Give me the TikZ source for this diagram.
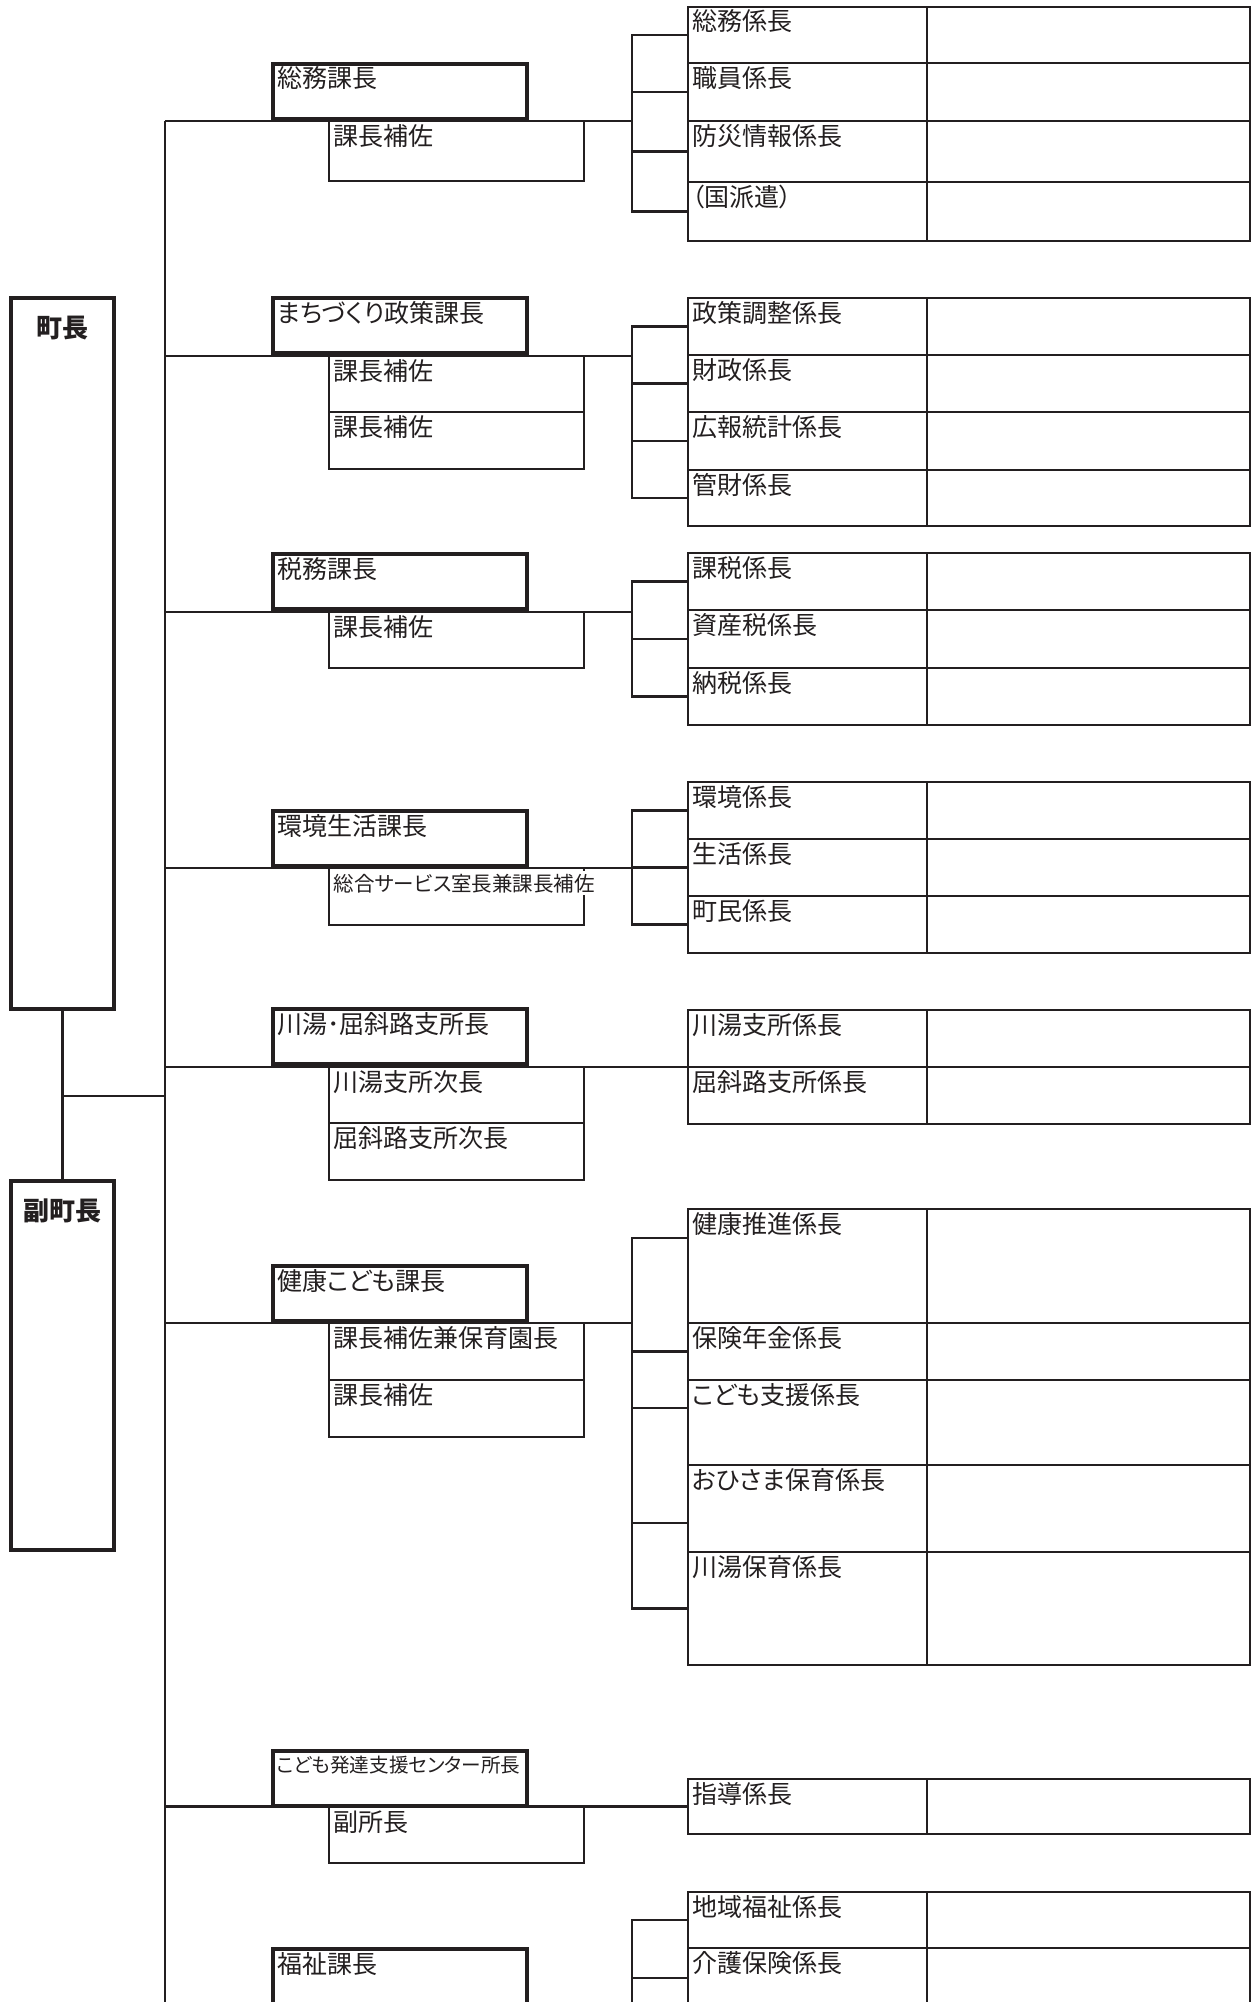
\documentclass[tikz,border=0pt]{standalone}
\usepackage{fontspec}
\setmainfont{Noto Sans CJK JP}[RawFeature=+palt]
\usepackage{xcolor}
\usetikzlibrary{positioning}
\definecolor{ink}{RGB}{35,31,32}

\begin{document}
\begin{tikzpicture}[
        x=1pt, y=-1pt,
        every label/.style={
            inner sep=0pt,
            text=ink,
            font=\fontsize{25}{30}\selectfont
        },
        box/.style={
            draw=ink,
            anchor=north west,
            inner sep=0pt,
            outer sep=0pt
        },
        chief/.style={box, line width=4.5pt, minimum width=103pt},
        head/.style={box, line width=4.5pt, minimum width=254pt, minimum height=55pt},
        aide/.style={box, line width=2.4pt, minimum width=255pt},
        unit/.style={box, line width=2.6pt, minimum width=239pt},
        blank/.style={box, line width=2.6pt, minimum width=323pt},
        txt/.style={label={[anchor=base west, xshift=4pt, yshift=-24pt]north west:#1}},
        boss/.style={label={[anchor=base, yshift=-39pt, font=\bfseries\fontsize{26}{30}\selectfont]north:#1}},
        wire/.style={draw=ink, line width=2.4pt}
    ]
        \useasboundingbox (0,0) rectangle (1258,2002);
        \clip (0,0) rectangle (1258,2002);
        \fill[white] (0,0) rectangle (1258,2002);

        \node[chief, minimum height=711pt, boss=町長] (mayor) at (11,298) {};
        \node[chief, minimum height=369pt, boss=副町長] (deputy) at (11,1181) {};

        \node[head, txt=総務課長] (h1) at (273,64) {};
        \node[head, txt=まちづくり政策課長] (h2) at (273,298) {};
        \node[head, txt=税務課長] (h3) at (273,554) {};
        \node[head, txt=環境生活課長] (h4) at (273,811) {};
        \node[head, txt=川湯･屈斜路支所長] (h5) at (273,1009) {};
        \node[head, txt=健康こども課長] (h6) at (273,1266) {};
        \node[head, label={[anchor=base west, xshift=3.5pt, yshift=-21pt, font=\fontsize{19.6}{23}\selectfont]north west:こども発達支援センター所長}] (h7) at (273,1751) {};
        \node[head, minimum height=60pt, txt=福祉課長] (h8) at (273,1949) {};

        \node[aide, minimum height=60pt, txt=課長補佐] (a11) at (329,121) {};
        \node[aide, minimum height=56pt, txt=課長補佐] (a21) at (329,356) {};
        \node[aide, minimum height=57pt, txt=課長補佐, below=0pt of a21] (a22) {};
        \node[aide, minimum height=56pt, txt=課長補佐] (a31) at (329,612) {};
        \node[aide, minimum height=57pt, label={[anchor=base west, xshift=4.5pt, yshift=-23pt, fill=white, inner ysep=2.5pt, font=\fontsize{20.5}{24}\selectfont]north west:総合サービス室長兼課長補佐}] (a41) at (329,868) {};
        \node[aide, minimum height=56pt, txt=川湯支所次長] (a51) at (329,1067) {};
        \node[aide, minimum height=57pt, txt=屈斜路支所次長, below=0pt of a51] (a52) {};
        \node[aide, minimum height=57pt, txt=課長補佐兼保育園長] (a61) at (329,1323) {};
        \node[aide, minimum height=57pt, txt=課長補佐, below=0pt of a61] (a62) {};
        \node[aide, minimum height=56pt, txt=副所長] (a71) at (329,1807) {};

        \foreach \ys/\ye/\lbl [count=\i] in {7/63/総務係長, 63/121/職員係長, 121/182/防災情報係長, 182/241/（国派遣）} {
            \node[unit, minimum height={\ye-\ys}, txt=\lbl] (u1\i) at (688,\ys) {};
            \node[blank, minimum height={\ye-\ys}, right=0pt of u1\i] (v1\i) {};
        }
        \foreach \ys/\ye/\lbl [count=\i] in {298/355/政策調整係長, 355/412/財政係長, 412/470/広報統計係長, 470/526/管財係長} {
            \node[unit, minimum height={\ye-\ys}, txt=\lbl] (u2\i) at (688,\ys) {};
            \node[blank, minimum height={\ye-\ys}, right=0pt of u2\i] (v2\i) {};
        }
        \foreach \ys/\ye/\lbl [count=\i] in {553/610/課税係長, 610/668/資産税係長, 668/725/納税係長} {
            \node[unit, minimum height={\ye-\ys}, txt=\lbl] (u3\i) at (688,\ys) {};
            \node[blank, minimum height={\ye-\ys}, right=0pt of u3\i] (v3\i) {};
        }
        \foreach \ys/\ye/\lbl [count=\i] in {782/839/環境係長, 839/896/生活係長, 896/953/町民係長} {
            \node[unit, minimum height={\ye-\ys}, txt=\lbl] (u4\i) at (688,\ys) {};
            \node[blank, minimum height={\ye-\ys}, right=0pt of u4\i] (v4\i) {};
        }
        \foreach \ys/\ye/\lbl [count=\i] in {1010/1067/川湯支所係長, 1067/1124/屈斜路支所係長} {
            \node[unit, minimum height={\ye-\ys}, txt=\lbl] (u5\i) at (688,\ys) {};
            \node[blank, minimum height={\ye-\ys}, right=0pt of u5\i] (v5\i) {};
        }
        \foreach \ys/\ye/\lbl [count=\i] in {1209/1323/健康推進係長, 1323/1380/保険年金係長, 1380/1465/こども支援係長, 1465/1552/おひさま保育係長, 1552/1665/川湯保育係長} {
            \node[unit, minimum height={\ye-\ys}, txt=\lbl] (u6\i) at (688,\ys) {};
            \node[blank, minimum height={\ye-\ys}, right=0pt of u6\i] (v6\i) {};
        }
        \foreach \ys/\ye/\lbl [count=\i] in {1779/1834/指導係長} {
            \node[unit, minimum height={\ye-\ys}, txt=\lbl] (u7\i) at (688,\ys) {};
            \node[blank, minimum height={\ye-\ys}, right=0pt of u7\i] (v7\i) {};
        }
        \foreach \ys/\ye/\lbl [count=\i] in {1892/1948/地域福祉係長, 1948/2008/介護保険係長} {
            \node[unit, minimum height={\ye-\ys}, txt=\lbl] (u8\i) at (688,\ys) {};
            \node[blank, minimum height={\ye-\ys}, right=0pt of u8\i] (v8\i) {};
        }

        \coordinate (trunk) at (165,121);
        \coordinate (foot) at (165,2010);
        \coordinate (jct) at (62.5,1096);
        \coordinate (b1) at (632,121);
        \coordinate (b2) at (632,356);
        \coordinate (b3) at (632,612);
        \coordinate (b4) at (632,868);
        \coordinate (b6) at (632,1323);
        \coordinate (b8) at (632,2006);
        \coordinate (k61) at ([yshift=28pt]u61.west);
        \coordinate (k63) at ([yshift=14.5pt]u63.west);
        \coordinate (k64) at ([yshift=-14.5pt]u64.west);

        \draw[wire] (mayor) -- (deputy);
        \draw[wire] (jct) -- (jct -| trunk);
        \draw[wire] (trunk) -- (foot);

        \draw[wire] (b1 -| trunk) -- (b1);
        \draw[wire] (u11.west) -| (b1) |- (u14.west);
        \draw[wire] (u12.west) -- (u12.west -| b1);
        \draw[wire] (u13.west) -- (u13.west -| b1);

        \draw[wire] (b2 -| trunk) -- (b2);
        \draw[wire] (u21.west) -| (b2) |- (u24.west);
        \draw[wire] (u22.west) -- (u22.west -| b2);
        \draw[wire] (u23.west) -- (u23.west -| b2);

        \draw[wire] (b3 -| trunk) -- (b3);
        \draw[wire] (u31.west) -| (b3) |- (u33.west);
        \draw[wire] (u32.west) -- (u32.west -| b3);

        \draw[wire] (b4 -| trunk) -- (b4);
        \draw[wire] (u41.west) -| (b4) |- (u43.west);
        \draw[wire] (u42.west) -- (u42.west -| b4);

        \draw[wire] (u52.north west -| trunk) -- (u52.north west);

        \draw[wire] (b6 -| trunk) -- (b6);
        \draw[wire] (k61) -| (b6) |- (u65.west);
        \draw[wire] (u62.west) -- (u62.west -| b6);
        \draw[wire] (k63) -- (k63 -| b6);
        \draw[wire] (k64) -- (k64 -| b6);

        \draw[wire] (u71.west -| trunk) -- (u71.west);

        \draw[wire] (b8 -| trunk) -- (b8);
        \draw[wire] (u81.west) -| (b8);
        \draw[wire] (u82.west) -- (u82.west -| b8);
    \end{tikzpicture}
\end{document}
